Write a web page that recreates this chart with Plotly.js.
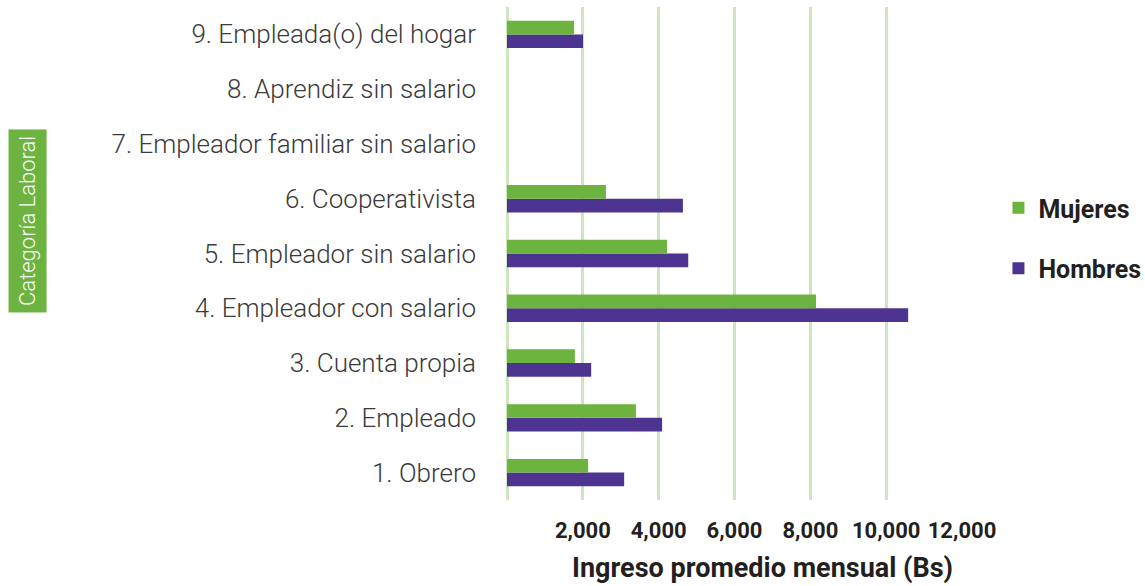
<!DOCTYPE html>
<html>
<head>
<meta charset="utf-8">
<script src="https://cdn.plot.ly/plotly-3.0.1.min.js"></script>
<style>html,body{margin:0;padding:0;background:#fff;}#chart{width:1145px;height:586px;}</style>
</head>
<body>
<div id="chart"></div>
<script>
const categories = [
  "1. Obrero",
  "2. Empleado",
  "3. Cuenta propia",
  "4. Empleador con salario",
  "5. Empleador sin salario",
  "6. Cooperativista",
  "7. Empleador familiar sin salario",
  "8. Aprendiz sin salario",
  "9. Empleada(o) del hogar"
];
const mujeres = [2140, 3400, 1790, 8150, 4220, 2610, null, null, 1770];
const hombres = [3090, 4090, 2220, 10580, 4780, 4640, null, null, 2005];
const tickVals = [2000, 4000, 6000, 8000, 10000, 12000];
const tickText = ["2,000", "4,000", "6,000", "8,000", "10,000", "12,000"];
const xTitle = "Ingreso promedio mensual (Bs)";
const yTitle = "Categoría Laboral";

const GREEN = "#6db33f";
const PURPLE = "#4e3491";
const GRID = "#cde6bf";
const FONT = "Roboto, 'Open Sans', sans-serif";

const traces = [
  {type: "bar", orientation: "h", name: "Hombres", y: categories, x: hombres,
   marker: {color: PURPLE}, legend: "legend2", hoverinfo: "x+name"},
  {type: "bar", orientation: "h", name: "Mujeres", y: categories, x: mujeres,
   marker: {color: GREEN}, legend: "legend", hoverinfo: "x+name"}
];

const legendFont = {family: FONT, size: 25, color: "#231f20", weight: "bold"};

const layout = {
  width: 1145, height: 586,
  margin: {l: 507, r: 183, t: 7, b: 86, autoexpand: false},
  paper_bgcolor: "#ffffff", plot_bgcolor: "#ffffff",
  barmode: "group", bargap: 0.5, bargroupgap: 0,
  xaxis: {
    range: [0, 12000], tickvals: tickVals, ticktext: tickText,
    tickangle: 0, automargin: false,
    showgrid: true, gridcolor: GRID, gridwidth: 3,
    zeroline: true, zerolinecolor: GRID, zerolinewidth: 3,
    showline: false, ticks: "",
    tickfont: {family: FONT, size: 22, color: "#231f20", weight: "bold"},
    ticklabelstandoff: 15,
    fixedrange: true
  },
  yaxis: {
    type: "category", categoryorder: "array", categoryarray: categories,
    automargin: false,
    showgrid: false, zeroline: false, showline: false, ticks: "",
    tickfont: {family: FONT, size: 26, color: "#3a3a3a", weight: 300},
    ticklabelstandoff: 30,
    fixedrange: true
  },
  showlegend: true,
  legend: {xref: "container", yref: "container", x: 0.872, xanchor: "left", y: 0.645, yanchor: "middle",
           font: legendFont, bgcolor: "rgba(0,0,0,0)", itemwidth: 30},
  legend2: {xref: "container", yref: "container", x: 0.872, xanchor: "left", y: 0.542, yanchor: "middle",
           font: legendFont, bgcolor: "rgba(0,0,0,0)", itemwidth: 30},
  annotations: [
    {
      text: yTitle, xref: "paper", yref: "paper",
      x: 0, xshift: -479.5, y: 0.565, xanchor: "center", yanchor: "middle",
      textangle: -90, showarrow: false, bgcolor: GREEN, borderpad: 6,
      font: {family: FONT, size: 22, color: "#ffffff", weight: 300}
    },
    {
      text: xTitle, xref: "paper", yref: "paper",
      x: 0.5626, y: -0.138, xanchor: "center", yanchor: "middle",
      showarrow: false,
      font: {family: FONT, size: 27, color: "#231f20", weight: "bold"}
    }
  ]
};

Plotly.newPlot("chart", traces, layout, {displayModeBar: false, staticPlot: true});
</script>
</body>
</html>
